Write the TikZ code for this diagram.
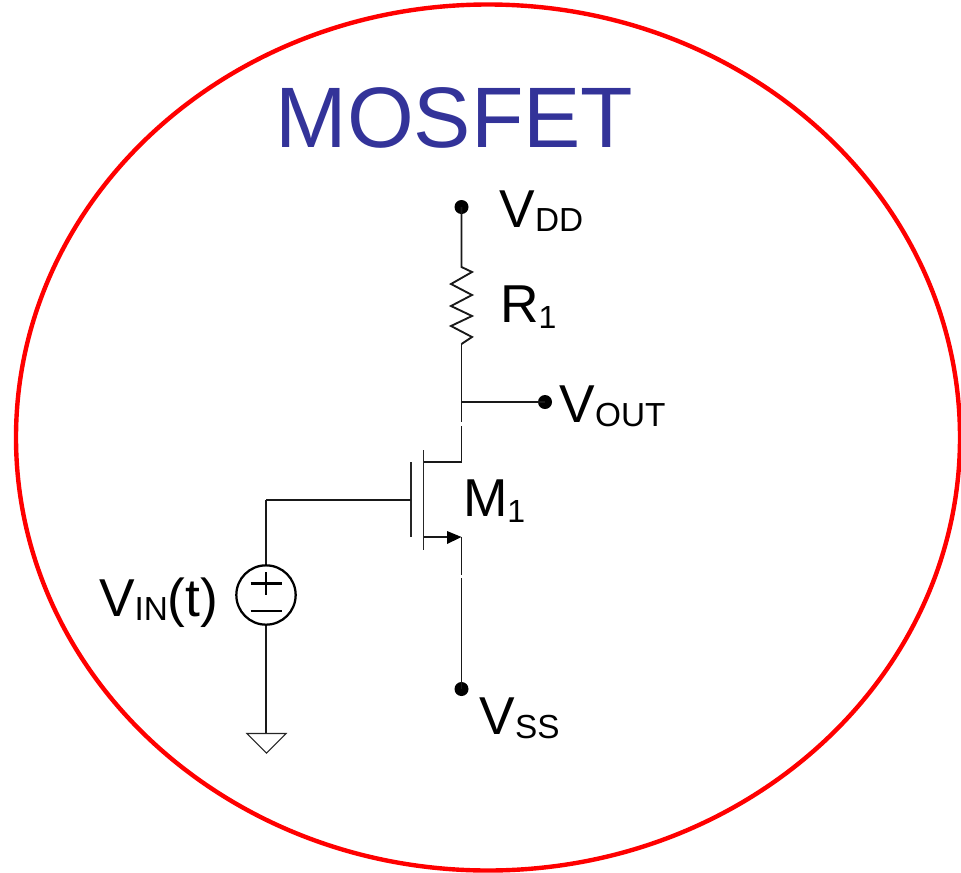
\documentclass[tikz,border=0pt]{standalone}
\usepackage{fontspec}
\usetikzlibrary{shapes.geometric}
\setmainfont{Liberation Sans}
\newcommand{\lbl}[2]{{\fontsize{40}{44}\selectfont #1}\raisebox{-3.5pt}{\fontsize{25}{28}\selectfont #2}}
\newcommand{\lblk}[2]{{\fontsize{40}{44}\selectfont #1}\raisebox{-4.5pt}{\fontsize{24}{28}\selectfont #2}}
\begin{document}
\begin{tikzpicture}[x=0.75pt,y=-0.75pt,
  wire/.style={line width=1.4pt,black!90},
  thin wire/.style={line width=1pt,black!85},
  lab/.style={anchor=base west,inner sep=0pt,outer sep=0pt,text=black},
  term/.style={circle,fill=black,inner sep=0pt,minimum size=10.5pt}]
\useasboundingbox (0,0) rectangle (961,872);
\node[draw=red,line width=3.3pt,ellipse,minimum width=708pt,minimum height=649.5pt,inner sep=0pt] at (488,437.5) (border) {};
\node[lab,text={rgb,255:red,51;green,51;blue,153}] (title) at (275.5,147) {\fontsize{64.4}{70}\selectfont MOSFET};
% terminals
\node[term] (vdd) at (461.5,207) {};
\node[term] (vout) at (545,402) {};
\node[term] (vss) at (461.5,689) {};
% junctions and free ends
\coordinate (rtop) at (461.5,267);
\coordinate (rbot) at (461.5,344);
\coordinate (tap) at (461.5,402);
\coordinate (dgapa) at (461.5,422);
\coordinate (dgapb) at (461.5,426);
\coordinate (dcorner) at (461.5,462);
\coordinate (ddrain) at (423.5,462);
\coordinate (chtop) at (423.5,450);
\coordinate (chbot) at (423.5,550);
\coordinate (gtop) at (411,462);
\coordinate (gbot) at (411,537);
\coordinate (gmid) at (411,500);
\coordinate (gcorner) at (266,500);
\coordinate (ssrc) at (423.5,537);
\coordinate (scorner) at (461.5,537);
\coordinate (sgapa) at (461.5,575);
\coordinate (sgapb) at (461.5,578);
\coordinate (gnd) at (266,733);
% resistor
\draw[wire] (vdd.center) -- (rtop) -- (472,272) -- (451,284) -- (472,295) -- (451,306) -- (472,316) -- (451,326) -- (472,337) -- (rbot);
\draw[wire] (rbot) -- (tap) -- (dgapa);
\draw[wire] (tap) -- (vout.center);
\draw[wire] (dgapb) -- (dcorner) -- (ddrain);
% mosfet
\draw[thin wire] (chtop) -- (chbot);
\draw[thin wire] (gtop) -- (gbot);
\draw[wire] (gcorner) -- (gmid);
\draw[wire] (ssrc) -- (447,537);
\fill[black] (scorner) -- (447,531) -- (447,544) -- cycle;
\draw[wire] (scorner) -- (sgapa);
\draw[wire] (sgapb) -- (vss.center);
% source
\node[circle,draw=black,line width=1.7pt,minimum size=44.5pt,inner sep=0pt] (src) at (266,595) {};
\draw[wire,line width=1.7pt] (gcorner) -- (src.north);
\draw[wire,line width=1.7pt] (src.south) -- (gnd);
\draw[line width=1.7pt] (250.5,583.5) -- (282,583.5) (266,572) -- (266,595);
\draw[line width=1.7pt] (250.5,611) -- (282,611);
\draw[thin wire,line width=0.8pt] (247,733.5) -- (286,733.5) -- (266.5,753) -- cycle;
% labels
\node[lab] (lvdd) at (499.5,227) {\lbl{V}{DD}};
\node[lab] (lr) at (500,322) {\lblk{R}{1}};
\node[lab] (lvout) at (559.5,422) {\lbl{V}{OUT}};
\node[lab] (lm) at (463,516) {\lblk{M}{1}};
\node[lab] (lvin) at (99,616) {\lbl{V}{IN}{\fontsize{40}{44}\selectfont (t)}};
\node[lab] (lvss) at (479.5,734) {\lbl{V}{SS}};
\end{tikzpicture}
\end{document}
